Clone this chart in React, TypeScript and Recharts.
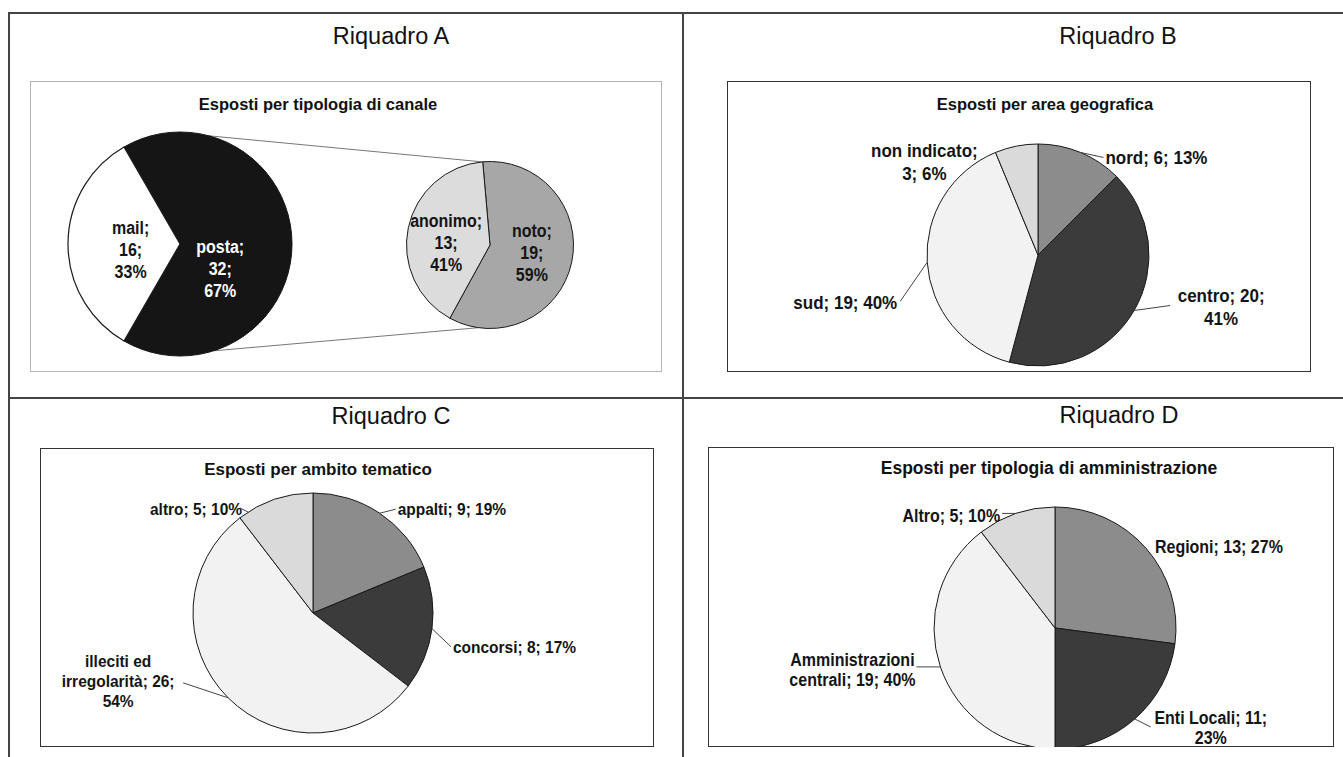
import React from "react";
import { PieChart, Pie, Cell } from "recharts";

// Riquadro A
const canaleNames = ["posta", "mail"];
const canaleValues = [32, 16];
const canalePct = [67, 33];
const provenienzaNames = ["noto", "anonimo"];
const provenienzaValues = [19, 13];
const provenienzaPct = [59, 41];

// Riquadro B
const areaNames = ["nord", "centro", "sud", "non indicato"];
const areaValues = [6, 20, 19, 3];
const areaPct = [13, 41, 40, 6];

// Riquadro C
const ambitoNames = ["appalti", "concorsi", "illeciti ed irregolarità", "altro"];
const ambitoValues = [9, 8, 26, 5];
const ambitoPct = [19, 17, 54, 10];

// Riquadro D
const amminNames = ["Regioni", "Enti Locali", "Amministrazioni centrali", "Altro"];
const amminValues = [13, 11, 19, 5];
const amminPct = [27, 23, 40, 10];

const FONT = "'Liberation Sans', Arial, Helvetica, sans-serif";
const RAD = Math.PI / 180;

const greys4 = ["#8c8c8c", "#3b3b3b", "#f2f2f2", "#dadada"];

type Slice = { name: string; value: number; pct: number };

const toData = (names: string[], values: number[], pct: number[]): Slice[] =>
  names.map((name, i) => ({ name, value: values[i], pct: pct[i] }));

const polar = (cx: number, cy: number, r: number, deg: number) => [
  cx + r * Math.cos(-deg * RAD),
  cy + r * Math.sin(-deg * RAD),
];

type LabelSpec = {
  k: number;
  da?: number;
  dx: number;
  dy: number;
  anchor: "start" | "middle" | "end";
  lines: number[];
  leader?: [number, number];
  color?: string;
};

// label text "name; value; pct%" broken into rows of words, text slightly stretched like the scan
function makeLabel(data: Slice[], specs: LabelSpec[], fontSize: number, lineH: number) {
  return (props: any) => {
    const { cx, cy, midAngle, outerRadius, index } = props;
    const s = specs[index];
    const [bx, by] = polar(cx, cy, outerRadius * s.k, midAngle + (s.da ?? 0));
    const d = data[index];
    const words = `${d.name}; ${d.value}; ${d.pct}%`.split(" ");
    const rows: string[] = [];
    let w = 0;
    for (const n of s.lines) {
      rows.push(words.slice(w, w + n).join(" "));
      w += n;
    }
    const tx = bx + s.dx;
    const ty = by + s.dy;
    const sy = 1.1;
    return (
      <g key={`lbl-${index}`}>
        {s.leader && (
          <polyline
            points={`${bx},${by} ${bx + s.leader[0]},${by + s.leader[1]}`}
            stroke="#444"
            strokeWidth={1}
            fill="none"
          />
        )}
        <g transform={`translate(${tx},${ty}) scale(1,${sy})`}>
          <text
            x={0}
            y={fontSize * 0.36}
            textAnchor={s.anchor}
            fill={s.color ?? "#141414"}
            fontSize={fontSize}
            fontWeight="bold"
            fontFamily={FONT}
          >
            {rows.map((r, i) => (
              <tspan key={i} x={0} dy={i === 0 ? 0 : lineH / sy}>
                {r}
              </tspan>
            ))}
          </text>
        </g>
      </g>
    );
  };
}

const canaleData = toData(canaleNames, canaleValues, canalePct);
const provenienzaData = toData(provenienzaNames, provenienzaValues, provenienzaPct);
const areaData = toData(areaNames, areaValues, areaPct);
const ambitoData = toData(ambitoNames, ambitoValues, ambitoPct);
const amminData = toData(amminNames, amminValues, amminPct);

const canaleLabels: LabelSpec[] = [
  { k: 0.35, dx: 1, dy: 3, anchor: "middle", lines: [1, 1, 1], color: "#ffffff" },
  { k: 0.45, dx: 1, dy: -16, anchor: "middle", lines: [1, 1, 1] },
];
const provenienzaLabels: LabelSpec[] = [
  { k: 0.5, dx: 1, dy: -23, anchor: "middle", lines: [1, 1, 1] },
  { k: 0.5, dx: -3, dy: -16, anchor: "middle", lines: [1, 1, 1] },
];
const areaLabels: LabelSpec[] = [
  { k: 1, dx: 25, dy: 5, anchor: "start", lines: [3], leader: [23, 5] },
  { k: 1, dx: 87, dy: -15, anchor: "middle", lines: [2, 1], leader: [36, -5] },
  { k: 1, dx: -30, dy: 40, anchor: "end", lines: [3], leader: [-27, 39] },
  { k: 1, dx: -92, dy: 4, anchor: "middle", lines: [2, 2] },
];
const ambitoLabels: LabelSpec[] = [
  { k: 1, dx: 18, dy: -4, anchor: "start", lines: [3], leader: [16, -4] },
  { k: 1, dx: 21, dy: 18, anchor: "start", lines: [3], leader: [19, 18] },
  { k: 1, dx: -110, dy: -37, anchor: "middle", lines: [2, 2, 1], leader: [-45, -15] },
  { k: 1, da: 14, dx: -6, dy: -3, anchor: "end", lines: [3], leader: [-8, -4] },
];
const amminLabels: LabelSpec[] = [
  { k: 1, dx: 9, dy: -2, anchor: "start", lines: [3] },
  { k: 1, dx: 76, dy: -1, anchor: "middle", lines: [3, 1], leader: [16, 8] },
  { k: 1, dx: -88, dy: -7, anchor: "middle", lines: [1, 3], leader: [-24, 0] },
  { k: 1, dx: -16, dy: 2, anchor: "end", lines: [3], leader: [-14, 0] },
];

const box = (left: number, top: number, width: number, height: number, color: string, bw: number) => (
  <div
    style={{
      position: "absolute",
      left,
      top,
      width,
      height,
      boxSizing: "border-box",
      border: `${bw}px solid ${color}`,
    }}
  />
);

const heading = (text: string, cx: number, cy: number, size: number, bold: boolean) => (
  <div
    style={{
      position: "absolute",
      left: cx - 250,
      width: 500,
      top: cy - size * 0.49,
      fontSize: size,
      lineHeight: `${size}px`,
      fontFamily: FONT,
      fontWeight: bold ? "bold" : "normal",
      textAlign: "center",
      color: "#111",
      whiteSpace: "nowrap",
    }}
  >
    {text}
  </div>
);

const noMargin = { top: 0, right: 0, bottom: 0, left: 0 };

const A = { left: 30, top: 81, w: 632, h: 291 };
const B = { left: 727, top: 81, w: 584, h: 291 };
const C = { left: 40, top: 448, w: 614, h: 299 };
const D = { left: 708, top: 447, w: 626, h: 300 };

const mainPie = { cx: 150, cy: 163, r: 112 };
const subPie = { cx: 460, cy: 164, r: 83.5 };

export default function App() {
  const [t1x, t1y] = polar(mainPie.cx, mainPie.cy, mainPie.r, 75);
  const [t2x, t2y] = polar(subPie.cx, subPie.cy, subPie.r, 95.4);
  const [b1x, b1y] = polar(mainPie.cx, mainPie.cy, mainPie.r, -72.5);
  const [b2x, b2y] = polar(subPie.cx, subPie.cy, subPie.r, -98);

  return (
    <div
      style={{
        position: "absolute",
        left: 0,
        top: 0,
        width: 1343,
        height: 757,
        background: "#ffffff",
        overflow: "hidden",
      }}
    >
      {/* grid of the four panels */}
      <div style={{ position: "absolute", left: 9, top: 12, width: 1334, height: 2, background: "#444" }} />
      <div style={{ position: "absolute", left: 8, top: 12, width: 2, height: 745, background: "#444" }} />
      <div style={{ position: "absolute", left: 682, top: 12, width: 2, height: 745, background: "#444" }} />
      <div style={{ position: "absolute", left: 9, top: 397, width: 1334, height: 2, background: "#444" }} />

      {heading("Riquadro A", 391, 37, 23.5, false)}
      {heading("Riquadro B", 1118, 37, 23.5, false)}
      {heading("Riquadro C", 391, 417, 23.5, false)}
      {heading("Riquadro D", 1119, 416, 23.5, false)}

      {box(A.left, A.top, A.w, A.h, "#b5b5b5", 1)}
      {box(B.left, B.top, B.w, B.h, "#333", 1.5)}
      {box(C.left, C.top, C.w, C.h, "#333", 1.5)}
      {box(D.left, D.top, D.w, D.h, "#333", 1.5)}

      {heading("Esposti per tipologia di canale", 318, 104, 16.5, true)}
      {heading("Esposti per area geografica", 1045, 104, 16.5, true)}
      {heading("Esposti per ambito tematico", 318, 469, 17, true)}
      {heading("Esposti per tipologia di amministrazione", 1049, 469, 17.5, true)}

      {/* Riquadro A: pie of pie */}
      <div style={{ position: "absolute", left: A.left, top: A.top }}>
        <svg width={A.w} height={A.h} style={{ position: "absolute", left: 0, top: 0 }}>
          <line x1={t1x} y1={t1y} x2={t2x} y2={t2y} stroke="#777" strokeWidth={1} />
          <line x1={b1x} y1={b1y} x2={b2x} y2={b2y} stroke="#777" strokeWidth={1} />
        </svg>
        <div style={{ position: "absolute", left: 0, top: 0 }}>
          <PieChart width={A.w} height={A.h} margin={noMargin}>
            <Pie
              data={canaleData}
              dataKey="value"
              nameKey="name"
              cx={mainPie.cx}
              cy={mainPie.cy}
              outerRadius={mainPie.r}
              startAngle={120}
              endAngle={-240}
              isAnimationActive={false}
              labelLine={false}
              label={makeLabel(canaleData, canaleLabels, 16, 22)}
            >
              <Cell fill="#151515" stroke="#151515" strokeWidth={1} />
              <Cell fill="#ffffff" stroke="#1a1a1a" strokeWidth={1.2} />
            </Pie>
            <Pie
              data={provenienzaData}
              dataKey="value"
              nameKey="name"
              cx={subPie.cx}
              cy={subPie.cy}
              outerRadius={subPie.r}
              startAngle={95}
              endAngle={-265}
              isAnimationActive={false}
              labelLine={false}
              label={makeLabel(provenienzaData, provenienzaLabels, 16, 22)}
            >
              <Cell fill="#a7a7a7" stroke="#1a1a1a" strokeWidth={1} />
              <Cell fill="#dcdcdc" stroke="#1a1a1a" strokeWidth={1} />
            </Pie>
          </PieChart>
        </div>
      </div>

      {/* Riquadro B */}
      <div style={{ position: "absolute", left: B.left, top: B.top }}>
        <PieChart width={B.w} height={B.h} margin={noMargin}>
          <Pie
            data={areaData}
            dataKey="value"
            nameKey="name"
            cx={311}
            cy={174}
            outerRadius={111}
            startAngle={90}
            endAngle={-270}
            isAnimationActive={false}
            labelLine={false}
            label={makeLabel(areaData, areaLabels, 17, 23)}
          >
            {areaData.map((d, i) => (
              <Cell key={d.name} fill={greys4[i]} stroke="#1a1a1a" strokeWidth={1} />
            ))}
          </Pie>
        </PieChart>
      </div>

      {/* Riquadro C */}
      <div style={{ position: "absolute", left: C.left, top: C.top }}>
        <PieChart width={C.w} height={C.h} margin={noMargin}>
          <Pie
            data={ambitoData}
            dataKey="value"
            nameKey="name"
            cx={273}
            cy={165}
            outerRadius={120}
            startAngle={90}
            endAngle={-270}
            isAnimationActive={false}
            labelLine={false}
            label={makeLabel(ambitoData, ambitoLabels, 15.5, 20)}
          >
            {ambitoData.map((d, i) => (
              <Cell key={d.name} fill={greys4[i]} stroke="#1a1a1a" strokeWidth={1} />
            ))}
          </Pie>
        </PieChart>
      </div>

      {/* Riquadro D */}
      <div style={{ position: "absolute", left: D.left, top: D.top }}>
        <PieChart width={D.w} height={D.h} margin={noMargin}>
          <Pie
            data={amminData}
            dataKey="value"
            nameKey="name"
            cx={347}
            cy={181}
            outerRadius={121}
            startAngle={90}
            endAngle={-270}
            isAnimationActive={false}
            labelLine={false}
            label={makeLabel(amminData, amminLabels, 16, 20)}
          >
            {amminData.map((d, i) => (
              <Cell key={d.name} fill={greys4[i]} stroke="#1a1a1a" strokeWidth={1} />
            ))}
          </Pie>
        </PieChart>
      </div>
    </div>
  );
}
